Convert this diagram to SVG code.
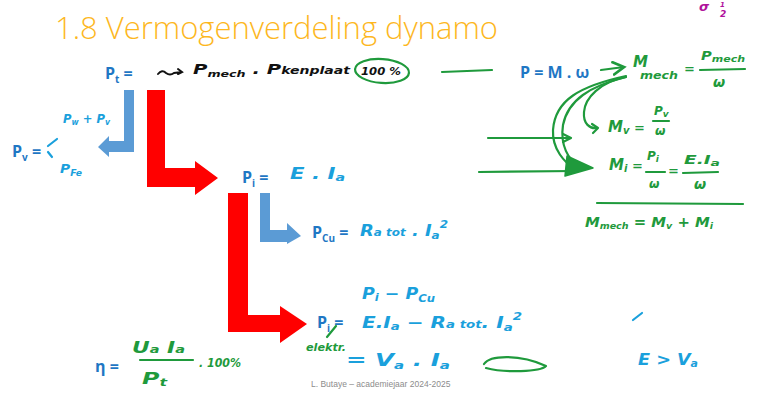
<svg xmlns="http://www.w3.org/2000/svg" width="763" height="413" viewBox="0 0 763 413">
  <defs>
    <style>
      .title { font-family: "Open Sans", "Liberation Sans", sans-serif; font-weight: 300; font-size: 31px; fill: #FDB71E; }
      .lbl { font-family: "Open Sans", "Liberation Sans", sans-serif; font-weight: 700; font-size: 16px; fill: #1F77C4; }
      .sub { font-size: 10px; }
      .hw { font-family: "DejaVu Sans", "Liberation Sans", sans-serif; font-style: italic; font-weight: bold; }
      .hb { fill: #1AA0DC; }
      .hg { fill: #1F9A3C; }
      .hk { fill: #111111; }
      .sg { fill: none; stroke: #1F9A3C; stroke-width: 2.2; stroke-linecap: round; stroke-linejoin: round; }
      .sb { fill: none; stroke: #1AA0DC; stroke-width: 2.2; stroke-linecap: round; }
      .red { fill: #FF0000; }
      .blue { fill: #5B9BD5; }
      .foot { font-family: "Liberation Sans", sans-serif; font-size: 8.5px; fill: #8C8C8C; }
    </style>
    <marker id="openHead" viewBox="0 0 10 10" refX="8" refY="5" markerWidth="7" markerHeight="7" orient="auto">
      <path d="M1,1 L8,5 L1,9" fill="none" stroke="#1F9A3C" stroke-width="1.8" stroke-linecap="round"/>
    </marker>
  </defs>

  <rect width="763" height="413" fill="#FFFFFF"/>

  <text class="title" x="55" y="39" textLength="443" lengthAdjust="spacingAndGlyphs">1.8 Vermogenverdeling dynamo</text>

  <!-- power flow arrows -->
  <g id="connectors">
    <!-- mechanical losses branch -->
    <path class="blue" d="M124,90 H134 V152 H109 V157 L98,147 L109,136 V141 H124 Z"/>
    <!-- main flow to internal power -->
    <path class="red" d="M147,90 H165 V168 H195 V161 L218,178 L195,195 V187 H147 Z"/>
    <!-- copper losses branch -->
    <path class="blue" d="M260,193 H270 V230 H287 V223 L301,236 L287,244 V242 H260 Z"/>
    <!-- main flow to electrical power -->
    <path class="red" d="M228,193 H248 V315 H280 V306 L307,324 L280,343 V332 H228 Z"/>
  </g>

  <g id="node-pt">
    <text class="lbl" x="105" y="79">P<tspan class="sub" dy="4">t</tspan><tspan dy="-4"> =</tspan></text>
    <path d="M158,74 q4,-5 8,-1 q4,3 8,0 l8,-1 m-4,-3 l4,3 l-4,2" fill="none" stroke="#111" stroke-width="2" stroke-linecap="round"/>
    <text class="hw hk" x="193" y="74" font-size="14" textLength="157" lengthAdjust="spacingAndGlyphs">P<tspan font-size="9" dy="3">mech</tspan><tspan dy="-3" font-size="14">  . P</tspan><tspan font-size="10">kenplaat</tspan></text>
    <ellipse cx="382" cy="71" rx="27" ry="12" fill="none" stroke="#1F9A3C" stroke-width="2.2" transform="rotate(4 382 71)"/>
    <text class="hw hk" x="361" y="75" font-size="11" textLength="40" lengthAdjust="spacingAndGlyphs">100 %</text>
    <path class="sg" d="M442,72 L492,70"/>
  </g>

  <g id="node-pv">
    <text class="lbl" x="12" y="157">P<tspan class="sub" dy="4">v</tspan><tspan dy="-4"> =</tspan></text>
    <text class="hw hb" x="63" y="123" font-size="12" textLength="47" lengthAdjust="spacingAndGlyphs">P<tspan font-size="8" dy="2">w</tspan><tspan dy="-2"> + P</tspan><tspan font-size="8" dy="2">v</tspan></text>
    <path class="sb" d="M48,146 L57,139 M48,152 L52,157"/>
    <text class="hw hb" x="60" y="173" font-size="12" textLength="22" lengthAdjust="spacingAndGlyphs">P<tspan font-size="8" dy="3">Fe</tspan></text>
  </g>

  <g id="node-pi">
    <text class="lbl" x="242" y="183">P<tspan class="sub" dy="4">i</tspan><tspan dy="-4"> =</tspan></text>
    <text class="hw hb" x="290" y="179" font-size="15" textLength="55" lengthAdjust="spacingAndGlyphs">E . I<tspan font-size="10" dy="2">a</tspan></text>
  </g>

  <g id="node-pcu">
    <text class="lbl" x="312" y="238">P<tspan class="sub" dy="4">Cu</tspan><tspan dy="-4"> =</tspan></text>
    <text class="hw hb" x="360" y="236" font-size="15" textLength="88" lengthAdjust="spacingAndGlyphs">R<tspan font-size="10">a tot</tspan> . I<tspan font-size="10" dy="3">a</tspan><tspan font-size="10" dy="-11">2</tspan></text>
  </g>

  <g id="node-pelektr">
    <text class="hw hb" x="362" y="299" font-size="15" textLength="73" lengthAdjust="spacingAndGlyphs">P<tspan font-size="10" dy="2">i</tspan><tspan dy="-2">  − P</tspan><tspan font-size="10" dy="3">Cu</tspan></text>
    <text class="lbl" x="317" y="328">P<tspan class="sub" dy="4">i</tspan><tspan dy="-4"> =</tspan></text>
    <path class="sg" d="M327,337 L336,326"/>
    <text class="hw hg" x="306" y="351" font-size="10" textLength="40" lengthAdjust="spacingAndGlyphs">elektr.</text>
    <text class="hw hb" x="362" y="328" font-size="15" textLength="160" lengthAdjust="spacingAndGlyphs">E.I<tspan font-size="10" dy="2">a</tspan><tspan dy="-2">  − R</tspan><tspan font-size="10">a tot</tspan><tspan>. I</tspan><tspan font-size="10" dy="3">a</tspan><tspan font-size="10" dy="-11">2</tspan></text>
    <text class="hw hb" x="346" y="366" font-size="18" textLength="104" lengthAdjust="spacingAndGlyphs">=  V<tspan font-size="11" dy="3">a</tspan><tspan dy="-3">  . I</tspan><tspan font-size="11" dy="3">a</tspan></text>
    <path class="sg" d="M484,364 C490,355 520,354 546,366 C540,372 505,373 486,368"/>
  </g>

  <g id="node-eta">
    <text class="lbl" x="95" y="372">η =</text>
    <text class="hw hg" x="132" y="353" font-size="15" textLength="53" lengthAdjust="spacingAndGlyphs">U<tspan font-size="10">a</tspan> I<tspan font-size="10">a</tspan></text>
    <path class="sg" d="M140,360 L193,360"/>
    <text class="hw hg" x="142" y="384" font-size="15" textLength="25" lengthAdjust="spacingAndGlyphs">P<tspan font-size="10" dy="2">t</tspan></text>
    <text class="hw hg" x="199" y="367" font-size="12" textLength="42" lengthAdjust="spacingAndGlyphs">. 100%</text>
  </g>

  <g id="node-torque">
    <text class="lbl" x="520" y="78">P = M . ω</text>
    <path class="sg" d="M601,70 L624,67" marker-end="url(#openHead)"/>
    <text class="hw hg" x="633" y="67" font-size="15">M</text>
    <text class="hw hg" x="640" y="79" font-size="10" textLength="38" lengthAdjust="spacingAndGlyphs">mech</text>
    <text class="hw hg" x="684" y="73" font-size="13">=</text>
    <text class="hw hg" x="701" y="60" font-size="12" textLength="44" lengthAdjust="spacingAndGlyphs">P<tspan font-size="9" dy="2">mech</tspan></text>
    <path class="sg" d="M700,70 L745,69"/>
    <text class="hw hg" x="713" y="87" font-size="14">ω</text>

    <!-- splitting of the mechanical torque -->
    <path class="sg" d="M626,77 C600,82 585,98 584,112 C583,124 590,129 597,128"/>
    <path class="sg" d="M592,124 L598,128 L593,133"/>
    <path class="sg" d="M626,77 C590,86 568,100 563,125 C560,145 568,160 580,167"/>
    <path class="sg" d="M626,76 C580,86 555,100 553,130 C552,150 565,162 575,170"/>
    <path class="sg" d="M488,138 L570,138"/>
    <path class="sg" d="M563,134 L571,138 L563,142"/>
    <path class="sg" d="M479,172 L575,171"/>
    <path d="M567,156 L593,168 L565,176 Z" fill="#1F9A3C" stroke="#1F9A3C" stroke-width="1.5" stroke-linejoin="round"/>

    <text class="hw hg" x="608" y="132" font-size="15">M<tspan font-size="10" dy="2">v</tspan><tspan dy="-2" font-size="13"> =</tspan></text>
    <text class="hw hg" x="654" y="115" font-size="12">P<tspan font-size="9" dy="2">v</tspan></text>
    <path class="sg" d="M653,121 L669,121"/>
    <text class="hw hg" x="655" y="135" font-size="12">ω</text>

    <text class="hw hg" x="609" y="170" font-size="15">M<tspan font-size="10" dy="2">i</tspan><tspan dy="-2" font-size="13"> =</tspan></text>
    <text class="hw hg" x="647" y="160" font-size="12">P<tspan font-size="9" dy="2">i</tspan></text>
    <path class="sg" d="M646,172 L665,172"/>
    <text class="hw hg" x="649" y="188" font-size="12">ω</text>
    <text class="hw hg" x="668" y="175" font-size="13">=</text>
    <text class="hw hg" x="684" y="164" font-size="12" textLength="36" lengthAdjust="spacingAndGlyphs">E.I<tspan font-size="9" dy="2">a</tspan></text>
    <path class="sg" d="M683,173 L718,172"/>
    <text class="hw hg" x="694" y="189" font-size="14">ω</text>

    <path class="sg" d="M597,203 L743,204"/>
    <text class="hw hg" x="585" y="227" font-size="14" textLength="128" lengthAdjust="spacingAndGlyphs">M<tspan font-size="9" dy="2">mech</tspan><tspan dy="-2" font-size="14"> = M</tspan><tspan font-size="9" dy="2">v</tspan><tspan dy="-2" font-size="14"> + M</tspan><tspan font-size="9" dy="2">i</tspan></text>
  </g>

  <g id="node-condition">
    <path class="sb" d="M633,320 L642,313"/>
    <text class="hw hb" x="638" y="365" font-size="16" textLength="60" lengthAdjust="spacingAndGlyphs">E &gt; V<tspan font-size="10" dy="2">a</tspan></text>
  </g>

  <g id="node-corner">
    <text class="hw" x="699" y="11" font-size="13" fill="#B0129C">σ</text>
    <text class="hw" x="720" y="7" font-size="7" fill="#B0129C">1</text>
    <text class="hw" x="720" y="17" font-size="9" fill="#B0129C">2</text>
  </g>

  <text class="foot" x="311" y="387">L. Butaye – academiejaar 2024-2025</text>
</svg>
